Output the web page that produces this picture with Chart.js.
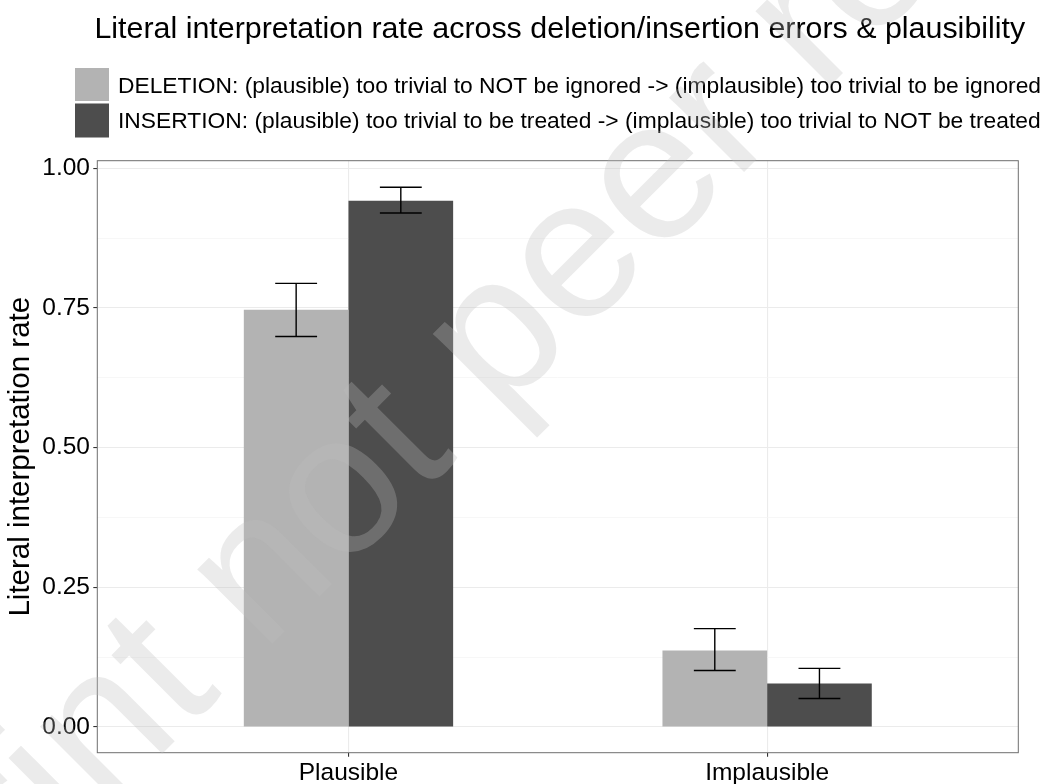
<!DOCTYPE html>
<html>
<head>
<meta charset="utf-8">
<title>Literal interpretation rate</title>
<script src="https://cdn.jsdelivr.net/npm/chart.js@4.4.1/dist/chart.umd.min.js"></script>
<style>
  html, body { margin: 0; padding: 0; background: #fff; }
  #wrap { width: 1049px; height: 784px; }
</style>
</head>
<body>
<div id="wrap"><canvas id="chart" width="1049" height="784"></canvas></div>
<script>
// Valeurs
const categories = ['Plausible', 'Implausible'];
const categoryPos = [1, 2];
const seriesLabels = [
  'DELETION: (plausible) too trivial to NOT be ignored -> (implausible) too trivial to be ignored',
  'INSERTION: (plausible) too trivial to be treated -> (implausible) too trivial to NOT be treated'
];
const seriesColors = ['#B3B3B3', '#4D4D4D'];
const deletionRate = [0.747, 0.137];
const deletionLow = [0.699, 0.101];
const deletionHigh = [0.794, 0.176];
const insertionRate = [0.942, 0.078];
const insertionLow = [0.920, 0.051];
const insertionHigh = [0.966, 0.105];
const yMajorTicks = [0, 0.25, 0.5, 0.75, 1];
const yTickLabels = ['0.00', '0.25', '0.50', '0.75', '1.00'];
const yMinorTicks = [0.125, 0.375, 0.625, 0.875];
const chartTitle = 'Literal interpretation rate across deletion/insertion errors & plausibility';
const yTitle = 'Literal interpretation rate';
const watermark = 'Preprint not peer reviewed';

const FONT = '"Liberation Sans", Arial, Helvetica, sans-serif';
Chart.defaults.font.family = FONT;
Chart.defaults.color = '#000';

const isMinor = v => yMinorTicks.includes(v);

// Barres d'erreur (intervalle bas/haut) dessinées sur chaque barre
const errorBars = {
  id: 'errorBars',
  afterDatasetsDraw(chart) {
    const ctx = chart.ctx;
    const y = chart.scales.y;
    chart.data.datasets.forEach((ds, di) => {
      const meta = chart.getDatasetMeta(di);
      meta.data.forEach((bar, i) => {
        const lo = y.getPixelForValue(ds.errLow[i]);
        const hi = y.getPixelForValue(ds.errHigh[i]);
        const half = bar.width * 0.2;
        ctx.save();
        ctx.strokeStyle = '#000';
        ctx.lineWidth = 1.4;
        ctx.beginPath();
        ctx.moveTo(bar.x, lo);
        ctx.lineTo(bar.x, hi);
        ctx.moveTo(bar.x - half, lo);
        ctx.lineTo(bar.x + half, lo);
        ctx.moveTo(bar.x - half, hi);
        ctx.lineTo(bar.x + half, hi);
        ctx.stroke();
        ctx.restore();
      });
    });
  }
};

// Cadre du panneau (style theme_bw)
const panelBorder = {
  id: 'panelBorder',
  afterDatasetsDraw(chart) {
    const a = chart.chartArea;
    const ctx = chart.ctx;
    ctx.save();
    ctx.strokeStyle = '#6e6e6e';
    ctx.lineWidth = 1;
    ctx.strokeRect(a.left, a.top, a.right - a.left, a.bottom - a.top);
    ctx.restore();
  }
};

// Titre et légende, centrés sur le panneau comme dans ggplot
const header = {
  id: 'header',
  afterDraw(chart) {
    const ctx = chart.ctx;
    const a = chart.chartArea;
    ctx.save();
    ctx.fillStyle = '#000';
    ctx.font = '30.4px ' + FONT;
    ctx.textAlign = 'center';
    ctx.textBaseline = 'alphabetic';
    ctx.fillText(chartTitle, (a.left + a.right) / 2 + 2, 37.5);

    const boxTop = [68, 103.5];
    const boxH = [33, 34];
    const baseY = [92.6, 128.4];
    ctx.font = '22.8px ' + FONT;
    ctx.textAlign = 'left';
    chart.data.datasets.forEach((ds, i) => {
      ctx.fillStyle = ds.backgroundColor;
      ctx.fillRect(75, boxTop[i], 34, boxH[i]);
      ctx.fillStyle = '#000';
      ctx.fillText(ds.label, 118, baseY[i]);
    });
    ctx.restore();
  }
};

// Filigrane en diagonale
const watermarkText = {
  id: 'watermarkText',
  afterDraw(chart) {
    const ctx = chart.ctx;
    ctx.save();
    ctx.translate(-272, 1188);
    ctx.rotate(-45 * Math.PI / 180);
    ctx.font = '200px ' + FONT;
    ctx.fillStyle = 'rgba(190, 190, 190, 0.3)';
    ctx.textBaseline = 'alphabetic';
    ctx.fillText(watermark, 0, 0);
    ctx.restore();
  }
};

new Chart(document.getElementById('chart'), {
  type: 'bar',
  data: {
    datasets: [
      {
        label: seriesLabels[0],
        data: categoryPos.map((x, i) => ({x: x, y: deletionRate[i]})),
        errLow: deletionLow,
        errHigh: deletionHigh,
        backgroundColor: seriesColors[0],
        borderWidth: 0
      },
      {
        label: seriesLabels[1],
        data: categoryPos.map((x, i) => ({x: x, y: insertionRate[i]})),
        errLow: insertionLow,
        errHigh: insertionHigh,
        backgroundColor: seriesColors[1],
        borderWidth: 0
      }
    ]
  },
  options: {
    responsive: false,
    animation: false,
    events: [],
    categoryPercentage: 0.5,
    barPercentage: 1.0,
    layout: { padding: { top: 160.7, right: 30.7, bottom: 0, left: 0 } },
    scales: {
      x: {
        type: 'linear',
        min: 0.4,
        max: 2.6,
        bounds: 'data',
        offset: false,
        grid: { offset: false, color: '#EBEBEB', lineWidth: 1.1, tickLength: 4, tickColor: '#333' },
        border: { display: false },
        ticks: {
          font: { size: 24.5 },
          color: '#000',
          padding: 2,
          autoSkip: false,
          maxRotation: 0,
          callback: (v, i) => categories[i]
        },
        afterBuildTicks: s => { s.ticks = categoryPos.map(v => ({value: v})); },
        afterFit: s => { s.height = 31.3; }
      },
      y: {
        type: 'linear',
        min: -0.046,
        max: 1.0136,
        bounds: 'data',
        grid: {
          color: c => (c.tick && isMinor(c.tick.value)) ? '#F3F3F3' : '#EBEBEB',
          lineWidth: c => (c.tick && isMinor(c.tick.value)) ? 0.7 : 1.1,
          tickColor: c => (c.tick && isMinor(c.tick.value)) ? 'rgba(0,0,0,0)' : '#333',
          tickLength: 4
        },
        border: { display: false },
        ticks: {
          font: { size: 24.5 },
          color: '#000',
          padding: 3.3,
          autoSkip: false,
          callback: v => {
            const k = yMajorTicks.indexOf(v);
            return k >= 0 ? yTickLabels[k] : '';
          }
        },
        title: {
          display: true,
          text: yTitle,
          color: '#000',
          font: { size: 29.5 },
          padding: { top: 3.6, bottom: 0 }
        },
        afterBuildTicks: s => {
          s.ticks = yMajorTicks.concat(yMinorTicks).sort((a, b) => a - b).map(v => ({value: v}));
        },
        afterFit: s => { s.width = 97.3; }
      }
    },
    plugins: {
      title: { display: false },
      legend: { display: false },
      tooltip: { enabled: false }
    }
  },
  plugins: [errorBars, panelBorder, header, watermarkText]
});
</script>
</body>
</html>
